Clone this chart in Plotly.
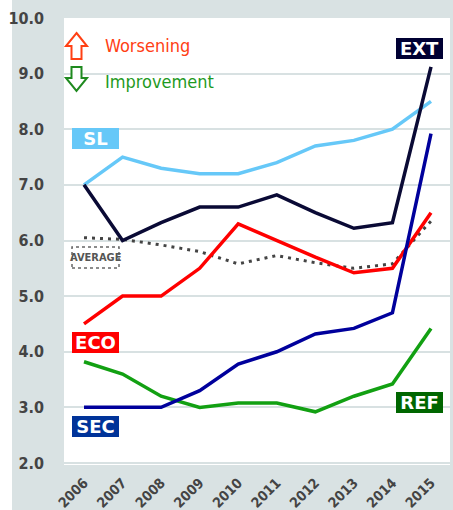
import plotly.graph_objects as go

# ---- data ----------------------------------------------------------------
years = [2006, 2007, 2008, 2009, 2010, 2011, 2012, 2013, 2014, 2015]

sl = [7.0, 7.5, 7.3, 7.2, 7.2, 7.4, 7.7, 7.8, 8.0, 8.5]
average = [6.05, 6.02, 5.92, 5.8, 5.58, 5.73, 5.6, 5.5, 5.58, 6.35]
eco = [4.5, 5.0, 5.0, 5.5, 6.3, 6.0, 5.7, 5.42, 5.5, 6.5]
ref = [3.82, 3.6, 3.2, 3.0, 3.08, 3.08, 2.92, 3.2, 3.42, 4.42]
sec = [3.0, 3.0, 3.0, 3.3, 3.78, 4.0, 4.32, 4.42, 4.7, 7.92]
ext = [7.0, 6.0, 6.32, 6.6, 6.6, 6.82, 6.5, 6.22, 6.32, 9.12]

y_ticks = [2.0, 3.0, 4.0, 5.0, 6.0, 7.0, 8.0, 9.0, 10.0]
y_tick_text = [f"{v:.1f}" for v in y_ticks]

# ---- styling -------------------------------------------------------------
W, H = 453, 510
ML, MR, MT, MB = 64, 3, 18, 45
PW, PH = W - ML - MR, H - MT - MB

BG = "#d9e2e3"
GRID = "#d8e1e2"
TICK = "#444444"
NARROW = "DejaVu Sans Condensed, Liberation Sans Narrow, Liberation Sans, Arial, sans-serif"
WIDE = "DejaVu Sans, Arial Black, sans-serif"


def px(x):
    """pixel column -> paper x"""
    return (x - ML) / PW


def py(y):
    """pixel row -> paper y"""
    return (MT + PH - y) / PH


series = [
    ("SL", sl, "#66c8f8", "solid"),
    ("AVERAGE", average, "#444444", "3px,5px"),
    ("ECO", eco, "#ff0000", "solid"),
    ("REF", ref, "#12a012", "solid"),
    ("SEC", sec, "#00009c", "solid"),
    ("EXT", ext, "#0a0a35", "solid"),
]

fig = go.Figure()
for name, vals, color, dash in series:
    fig.add_trace(go.Scatter(
        x=years, y=vals, mode="lines", name=name,
        line=dict(color=color, width=3.5 if dash == "solid" else 3, dash=dash),
        hoverinfo="x+y+name",
    ))

# series tags: (text, box colour, left px, top px)
tags = [
    ("SL", "#66c8f8", 72, 128),
    ("EXT", "#000033", 396, 38),
    ("ECO", "#ff0000", 72, 332),
    ("SEC", "#003399", 72, 416),
    ("REF", "#006600", 396, 392),
]
annotations = []
for text, color, x0, y0 in tags:
    annotations.append(dict(
        text=f"<b>{text}</b>", xref="paper", yref="paper",
        x=px(x0 + 23.5), y=py(y0 + 10.5), xanchor="center", yanchor="middle",
        showarrow=False, bgcolor=color, width=47, height=21,
        borderpad=0, borderwidth=0, align="center", valign="middle",
        font=dict(family=WIDE, size=18, color="white"),
    ))

# AVERAGE tag with a dotted frame
annotations.append(dict(
    text="<b>AVERAGE</b>", xref="paper", yref="paper",
    x=px(95.5), y=py(257.5), xanchor="center", yanchor="middle",
    showarrow=False, font=dict(family=NARROW, size=11, color="#555555"),
))

# legend-like key
annotations += [
    dict(text="Worsening", xref="paper", yref="paper", x=px(103), y=py(46),
         xanchor="left", yanchor="middle", showarrow=False,
         font=dict(family=NARROW, size=18, color="#ff4014")),
    dict(text="Improvement", xref="paper", yref="paper", x=px(103), y=py(81),
         xanchor="left", yanchor="middle", showarrow=False,
         font=dict(family=NARROW, size=18, color="#1f9a1f")),
]


def path(points):
    return "M " + " L ".join(f"{px(x):.5f},{py(y):.5f}" for x, y in points) + " Z"


up_arrow = [(76.5, 33), (87, 46), (81.5, 46), (81.5, 59), (71.5, 59), (71.5, 46), (66, 46)]
down_arrow = [(71.5, 67), (81.5, 67), (81.5, 78), (87, 78), (76.5, 91), (66, 78), (71.5, 78)]

shapes = [
    # white strip at the far left of the canvas
    dict(type="rect", xref="paper", yref="paper", layer="below",
         x0=px(-20), x1=px(12), y0=py(H + 60), y1=py(-20),
         fillcolor="white", line=dict(width=0)),
    dict(type="rect", xref="paper", yref="paper",
         x0=px(72), x1=px(119), y0=py(268), y1=py(247),
         fillcolor="rgba(0,0,0,0)", line=dict(color="#666666", width=1.5, dash="dot")),
    dict(type="path", xref="paper", yref="paper", path=path(up_arrow),
         fillcolor="white", line=dict(color="#ff4014", width=2)),
    dict(type="path", xref="paper", yref="paper", path=path(down_arrow),
         fillcolor="white", line=dict(color="#1f8a1f", width=2)),
]

fig.update_layout(
    width=W, height=H,
    margin=dict(l=ML, r=MR, t=MT, b=MB, pad=0, autoexpand=False),
    paper_bgcolor=BG, plot_bgcolor="white",
    showlegend=False,
    annotations=annotations, shapes=shapes,
    xaxis=dict(
        range=[2005.481, 2015.493], tickmode="array", tickvals=years,
        ticktext=[f"<b>{y}</b>" for y in years], tickangle=-45,
        tickfont=dict(family=NARROW, size=14, color=TICK),
        showgrid=False, zeroline=False, showline=False, ticks="",
        ticklabelstandoff=6, automargin=False,
    ),
    yaxis=dict(
        range=[1.964, 10.0], tickmode="array", tickvals=y_ticks,
        ticktext=[f"<b>{t}</b>" for t in y_tick_text],
        tickfont=dict(family=NARROW, size=16, color=TICK),
        showgrid=True, gridcolor=GRID, gridwidth=2,
        zeroline=False, showline=False, ticks="", ticklabelstandoff=19,
        automargin=False,
    ),
)

fig.write_html("out.html")
